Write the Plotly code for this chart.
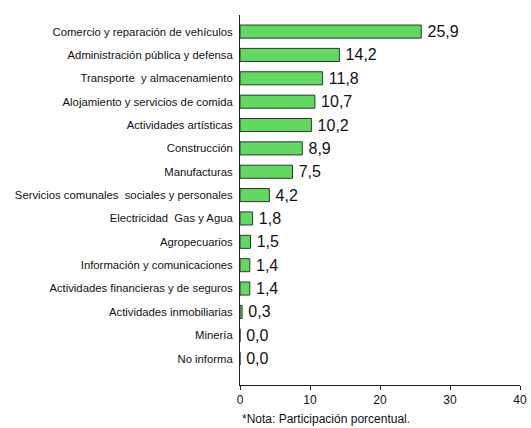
import plotly.graph_objects as go

categories = [
    "Comercio y reparación de vehículos",
    "Administración pública y defensa",
    "Transporte  y almacenamiento",
    "Alojamiento y servicios de comida",
    "Actividades artísticas",
    "Construcción",
    "Manufacturas",
    "Servicios comunales  sociales y personales",
    "Electricidad  Gas y Agua",
    "Agropecuarios",
    "Información y comunicaciones",
    "Actividades financieras y de seguros",
    "Actividades inmobiliarias",
    "Minería",
    "No informa",
]
values = [25.9, 14.2, 11.8, 10.7, 10.2, 8.9, 7.5, 4.2, 1.8, 1.5, 1.4, 1.4, 0.3, 0.0, 0.0]
x_ticks = [0, 10, 20, 30, 40]
note = "*Nota: Participación porcentual."

font_family = "Liberation Sans, Arial"

fig = go.Figure(go.Bar(
    x=values,
    y=categories,
    orientation="h",
    width=0.56,
    marker=dict(color="#62d862", line=dict(color="#2b3b2b", width=1)),
    texttemplate="\u2009%{x:.1f}",
    textposition="outside",
    constraintext="none",
    textfont=dict(size=16, color="#111111", family=font_family),
    cliponaxis=False,
    hoverinfo="skip",
))

fig.update_layout(
    width=531, height=428,
    margin=dict(l=240, r=11, t=15, b=43, autoexpand=False),
    paper_bgcolor="white", plot_bgcolor="white",
    separators=",.",
    showlegend=False,
    font=dict(family=font_family, size=12, color="#111111"),
    xaxis=dict(
        range=[0, 40], tickvals=x_ticks, showgrid=False, zeroline=False,
        showline=True, linecolor="#222222", linewidth=1,
        ticks="outside", ticklen=4, tickcolor="#222222",
        tickfont=dict(size=12), fixedrange=True, automargin=False,
    ),
    yaxis=dict(
        categoryorder="array", categoryarray=categories,
        range=[15.13, -0.71], showgrid=False, zeroline=False,
        showline=True, linecolor="#222222", linewidth=1,
        ticks="", ticklabelstandoff=4, tickfont=dict(size=11.3),
        automargin=False, fixedrange=True,
    ),
    annotations=[dict(
        text=note, xref="paper", yref="paper", x=0.0, y=-0.068,
        xanchor="left", yanchor="top", showarrow=False,
        font=dict(size=12, color="#111111"),
    )],
)

fig.write_html(
    "out.html",
    config={"displayModeBar": False},
    post_script="document.body.style.margin='0';document.body.style.overflow='hidden';",
)
